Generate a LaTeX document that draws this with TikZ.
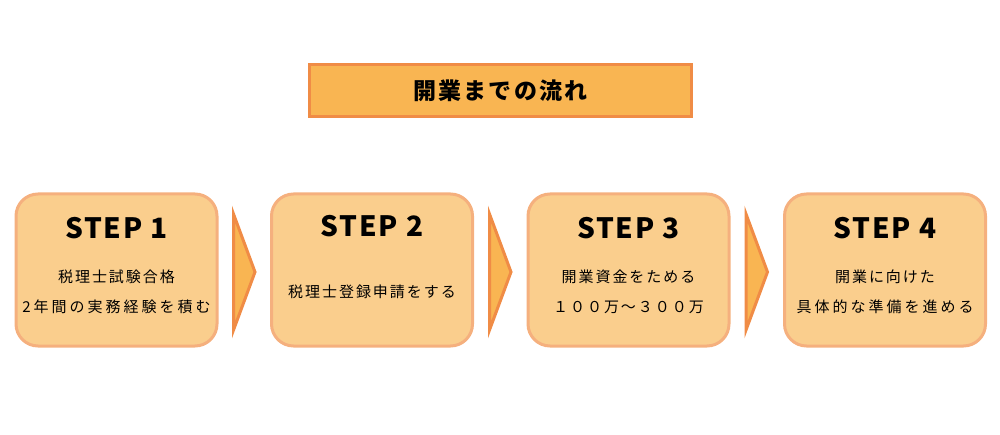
\documentclass[tikz,border=0pt]{standalone}
\usepackage{fontspec}
\setmainfont{Noto Sans CJK JP}
\definecolor{titlefill}{HTML}{F9B552}
\definecolor{titledraw}{HTML}{F08C46}
\definecolor{boxfill}{HTML}{FACE8D}
\definecolor{boxdraw}{HTML}{F5B07E}
\tikzset{
  titlebox/.style={draw=titledraw, fill=titlefill, line width=3pt, minimum width=382pt, minimum height=52pt, inner sep=0pt,
    font=\fontsize{23}{26}\selectfont\bfseries\addfontfeature{LetterSpace=10}},
  stepbox/.style={draw=boxdraw, fill=boxfill, line width=3pt, rounded corners=22pt, minimum width=201pt, minimum height=152pt, inner sep=0pt},
  steplabel/.style={anchor=base, inner sep=0pt, font=\fontsize{28}{32}\selectfont\bfseries\addfontfeature{LetterSpace=6}},
  steptext/.style={inner sep=0pt, font=\fontsize{15}{18}\selectfont\addfontfeature{LetterSpace=13}},
  steptextwide/.style={inner sep=0pt, font=\fontsize{15}{18}\selectfont\addfontfeature{LetterSpace=20}},
  flowarrow/.style={draw=titledraw, fill=titlefill, line width=3pt, line join=miter}
}
\begin{document}
\begin{tikzpicture}[x=1pt,y=-1pt]
\useasboundingbox (0,0) rectangle (1000,435);
\node[titlebox] (title) at (500.5,90.5) {開業までの流れ};

\node[stepbox] (b1) at (116.5,270) {};
\node[stepbox] (b2) at (372,270) {};
\node[stepbox] (b3) at (628.5,270) {};
\node[stepbox] (b4) at (885,270) {};

\node[steplabel] (s1) at (116.5,239) {STEP 1};
\node[steplabel] (s2) at (372,237) {STEP 2};
\node[steplabel] (s3) at (628.5,239) {STEP 3};
\node[steplabel] (s4) at (885,239) {STEP 4};

\node[steptext] (t1a) at (116.5,277) {税理士試験合格};
\node[steptextwide] (t1b) at (116.5,307) {2年間の実務経験を積む};
\node[steptext] (t2) at (372,292) {税理士登録申請をする};
\node[steptext] (t3a) at (628.5,277) {開業資金をためる};
\node[steptext] (t3b) at (628.5,307) {１００万～３００万};
\node[steptext] (t4a) at (885,277) {開業に向けた};
\node[steptextwide] (t4b) at (885,307) {具体的な準備を進める};

\draw[flowarrow] (233.5,214) -- (255,272) -- (233.5,330) -- cycle;
\draw[flowarrow] (489.5,214) -- (511,272) -- (489.5,330) -- cycle;
\draw[flowarrow] (746,214) -- (767.5,272) -- (746,330) -- cycle;
\end{tikzpicture}
\end{document}
